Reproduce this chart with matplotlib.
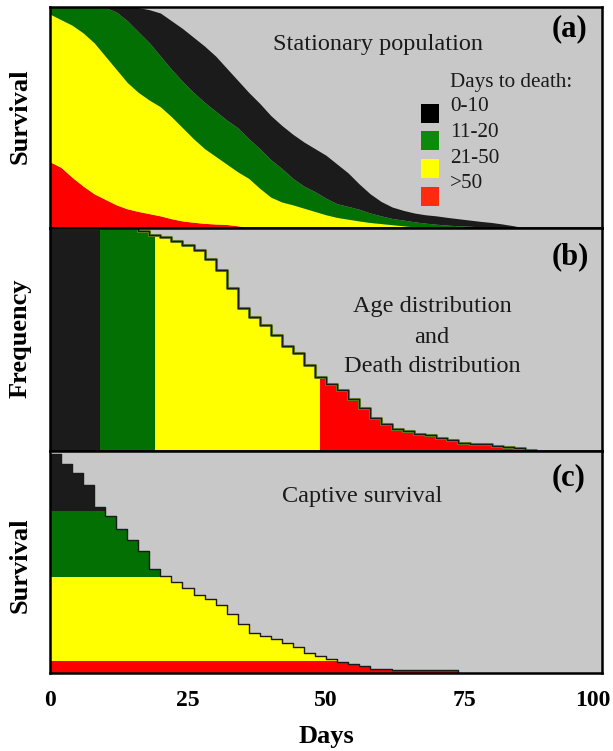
import numpy as np
import matplotlib
matplotlib.use("Agg")
import matplotlib.pyplot as plt
from matplotlib.patches import Rectangle
from matplotlib.transforms import ScaledTranslation

plt.rcParams['font.family'] = ['Liberation Serif', 'DejaVu Serif']

# ---------------- data ----------------
# Panel (a): stationary population, stacked by days to death (tops of each layer)
days_a = list(range(0, 88, 2))
a_black = [1, 1, 1, 1, 1, 1, 1, 1, 1, 0.99, 0.975, 0.94, 0.905, 0.865, 0.825, 0.78,
           0.725, 0.67, 0.615, 0.565, 0.51, 0.465, 0.425, 0.39, 0.36, 0.33, 0.29, 0.25,
           0.2, 0.155, 0.12, 0.095, 0.08, 0.068, 0.06, 0.055, 0.048, 0.042, 0.036, 0.03,
           0.025, 0.018, 0.01, 0]
a_green = [1, 1, 1, 1, 1, 1, 0.98, 0.94, 0.89, 0.84, 0.78, 0.72, 0.665, 0.615, 0.57,
           0.53, 0.49, 0.455, 0.405, 0.36, 0.31, 0.27, 0.225, 0.19, 0.165, 0.135, 0.11,
           0.098, 0.085, 0.068, 0.055, 0.043, 0.036, 0.028, 0.022, 0.017, 0.013, 0.01,
           0.008, 0.005, 0.003, 0, 0, 0]
a_yellow = [0.97, 0.945, 0.92, 0.885, 0.84, 0.78, 0.72, 0.66, 0.615, 0.58, 0.55, 0.505,
            0.455, 0.405, 0.36, 0.325, 0.29, 0.255, 0.225, 0.18, 0.14, 0.118, 0.105, 0.09,
            0.075, 0.06, 0.048, 0.04, 0.032, 0.025, 0.02, 0.015, 0.01, 0.005,
            0, 0, 0, 0, 0, 0, 0, 0, 0, 0]
a_red = [0.3, 0.275, 0.23, 0.19, 0.155, 0.13, 0.105, 0.087, 0.075, 0.065, 0.055, 0.042,
         0.032, 0.026, 0.021, 0.018, 0.016, 0.01] + [0] * 26

# Panel (b): age distribution / death distribution
days_b = list(range(0, 90, 2))
b_freq = [1, 1, 1, 1, 1, 1, 1, 1, 0.985, 0.97, 0.958, 0.94, 0.922, 0.9, 0.86, 0.81,
          0.73, 0.64, 0.6, 0.565, 0.52, 0.47, 0.44, 0.385, 0.33, 0.3, 0.275, 0.235,
          0.195, 0.15, 0.12, 0.1, 0.088, 0.078, 0.07, 0.06, 0.05, 0.037, 0.033, 0.03,
          0.024, 0.018, 0.012, 0.005, 0]
b_edges = [0, 9, 19, 49, 100]

# Panel (c): captive survival
days_c = list(range(0, 76, 2))
c_surv = [0.985, 0.94, 0.9, 0.846, 0.75, 0.705, 0.65, 0.6, 0.55, 0.47, 0.435, 0.41,
          0.385, 0.35, 0.335, 0.305, 0.265, 0.22, 0.178, 0.165, 0.152, 0.135, 0.115,
          0.092, 0.075, 0.062, 0.05, 0.042, 0.03, 0.02, 0.017, 0.014, 0.014, 0.014,
          0.014, 0.014, 0.014, 0]
c_levels = [1.0, 0.728, 0.434, 0.056, 0.0]

group_labels = ['0-10', '11-20', '21-50', '>50']
x_ticks = [0, 25, 50, 75, 100]

# ---------------- style ----------------
BG = '#c8c8c8'
COLS = ['#1b1b1b', '#037003', '#ffff00', '#ff0000']
LEG_COLS = ['#000000', '#0b8a0b', '#ffff00', '#ff2a10']
TXT = '#1a1a1a'

W, H = 613, 751
fig = plt.figure(figsize=(W / 100, H / 100), dpi=100)

def px_axes(top, bottom, left=50, right=602):
    return fig.add_axes([left / W, 1 - bottom / H, (right - left) / W, (bottom - top) / H])

ax_a = px_axes(7.5, 228)
ax_b = px_axes(228, 451)
ax_c = px_axes(451, 673)

for ax in (ax_a, ax_b, ax_c):
    ax.set_facecolor(BG)
    ax.set_xlim(0, 100)
    ax.set_ylim(0, 1.0)
    ax.set_yticks([])
    for s in ax.spines.values():
        s.set_linewidth(1.8)
        s.set_color('black')
        s.set_zorder(5)
    ax.tick_params(axis='x', length=0, labelbottom=False)

# ---- panel (a)
da = np.array(days_a, dtype=float)
layers = [np.zeros(len(da)), np.array(a_red), np.array(a_yellow),
          np.array(a_green), np.array(a_black)]
fill_cols = [COLS[3], COLS[2], COLS[1], COLS[0]]
for i in range(4):
    ax_a.fill_between(da, layers[i], layers[i + 1], color=fill_cols[i], lw=0)

ax_a.text(0.594, 0.83, 'Stationary population', transform=ax_a.transAxes,
          ha='center', va='center', fontsize=17.5, color=TXT)
ax_a.text(0.942, 0.905, '(a)', transform=ax_a.transAxes, ha='center', va='center',
          fontsize=22, fontweight='bold')
ax_a.text(0.725, 0.662, 'Days to death:', transform=ax_a.transAxes, ha='left',
          va='center', fontsize=15.2, color=TXT)
sq_bottoms = [0.476, 0.354, 0.227, 0.10]
txt_y = [0.549, 0.431, 0.313, 0.204]
for i in range(4):
    ax_a.add_patch(Rectangle((0.673, sq_bottoms[i]), 0.032, 0.088,
                             transform=ax_a.transAxes, color=LEG_COLS[i], lw=0))
    ax_a.text(0.725, txt_y[i], group_labels[i], transform=ax_a.transAxes,
              ha='left', va='center', fontsize=15.2, color=TXT)

# ---- panel (b)
db = np.array(days_b, dtype=float)
fb = np.array(b_freq)
for i in range(4):
    poly = ax_b.fill_between(db, 0, fb, step='post', color=COLS[i], lw=0)
    clip = Rectangle((b_edges[i], 0), b_edges[i + 1] - b_edges[i], 1.2,
                     transform=ax_b.transData)
    poly.set_clip_path(clip)
ax_b.step(db, fb, where='post', color='#6b8a2a', lw=2.2)
ax_b.step(db, fb, where='post', color='#1a1a1a', lw=1.0)

for txt, yy in [('Age distribution', 0.646), ('and', 0.511), ('Death distribution', 0.377)]:
    ax_b.text(0.692, yy, txt, transform=ax_b.transAxes,
              ha='center', va='center', fontsize=17.5, color=TXT)
ax_b.text(0.942, 0.872, '(b)', transform=ax_b.transAxes, ha='center', va='center',
          fontsize=22, fontweight='bold')

# ---- panel (c)
dc = np.array(days_c, dtype=float)
sc = np.array(c_surv)
for i in range(4):
    hi, lo = c_levels[i], c_levels[i + 1]
    top = np.clip(sc, lo, hi)
    ax_c.fill_between(dc, lo, top, step='post', color=COLS[i], lw=0)
ax_c.step(dc, sc, where='post', color='#1a1a1a', lw=1.0)

ax_c.text(0.565, 0.793, 'Captive survival', transform=ax_c.transAxes,
          ha='center', va='center', fontsize=17.5, color=TXT)
ax_c.text(0.94, 0.88, '(c)', transform=ax_c.transAxes, ha='center', va='center',
          fontsize=22, fontweight='bold')

ax_c.set_xticks(x_ticks)
ax_c.set_xticklabels([str(t) for t in x_ticks])
ax_c.tick_params(axis='x', length=0, pad=12, labelbottom=True, labelsize=17)
labs = ax_c.get_xticklabels()
for lab in labs:
    lab.set_fontweight('bold')
labs[-1].set_transform(labs[-1].get_transform() + ScaledTranslation(-0.09, 0, fig.dpi_scale_trans))
ax_c.set_xlabel('Days', fontsize=19, fontweight='bold', labelpad=10)

# y labels
fig.text(20 / W, 1 - 116 / H, 'Survival', rotation=90, ha='center', va='center',
         fontsize=19, fontweight='bold')
fig.text(20 / W, 1 - 338 / H, 'Frequency', rotation=90, ha='center', va='center',
         fontsize=19, fontweight='bold')
fig.text(20 / W, 1 - 565 / H, 'Survival', rotation=90, ha='center', va='center',
         fontsize=19, fontweight='bold')

fig.savefig('out.png', dpi=100, facecolor='white')
